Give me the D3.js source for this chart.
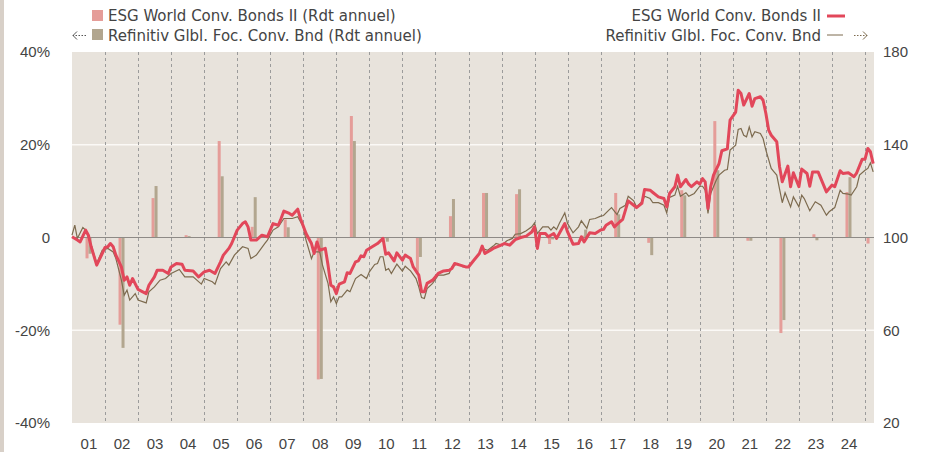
<!DOCTYPE html>
<html>
<head>
<meta charset="utf-8">
<script src="https://cdn.jsdelivr.net/npm/d3@7"></script>
<style>
    body { margin: 0; background: #fff; }
    svg { display: block; font-family: "DejaVu Sans", Verdana, sans-serif; }
    .axis text { fill: #444; font-size: 15px; }
</style>
</head>
<body>
<svg width="925" height="452"></svg>
<script>
// annual returns (%) shown as bars
const barYears = [2001, 2002, 2003, 2004, 2005, 2006, 2007, 2008, 2009, 2010, 2011, 2012, 2013,
    2014, 2015, 2016, 2017, 2018, 2019, 2020, 2021, 2022, 2023, 2024, 2025]
const esgAnnual = [-4.5, -18.8, 8.5, 0.5, 20.8, 2.3, 3.9, -30.6, 26.2, -0.2, -7.4, 4.6, 9.6,
    9.35, -1.4, 0.4, 9.6, -1.15, 10.2, 25.1, -0.7, -20.6, 0.7, 9.8, -1.3]
const refAnnual = [-3.5, -23.8, 11.1, 0.3, 13.2, 8.7, 2.2, -30.5, 20.8, -0.9, -4.2, 8.3, 9.6,
    10.4, -0.4, 1.7, 5.0, -3.8, 9.1, 14.5, -0.7, -17.8, -0.6, 13.0, 0]

// index levels (base 100), right axis
const esgIndex = [
    ["2001-01", 100.3], ["2001-03", 98.9], ["2001-04", 98.1], ["2001-06", 103.2], ["2001-07", 101], ["2001-08", 96], ["2001-10", 88.1], ["2001-12", 93.1],
    ["2002-01", 95.7], ["2002-02", 96], ["2002-03", 97.4], ["2002-04", 96], ["2002-05", 92.4], ["2002-07", 87.3], ["2002-08", 81.6], ["2002-09", 83], ["2002-10", 79.4], ["2002-11", 82.3],
    ["2003-01", 77.6], ["2003-02", 77], ["2003-04", 75.8], ["2003-05", 79.4], ["2003-07", 83], ["2003-08", 85.9], ["2003-10", 85.9], ["2003-12", 84.5],
    ["2004-01", 87.3], ["2004-03", 88.8], ["2004-05", 88.5], ["2004-06", 85.9], ["2004-09", 85.6], ["2004-11", 83],
    ["2005-01", 85.2], ["2005-03", 85.9], ["2005-05", 84.5], ["2005-07", 89.5], ["2005-08", 92.4], ["2005-10", 95.3], ["2005-11", 97.4],
    ["2006-01", 103.2], ["2006-03", 106], ["2006-04", 106.8], ["2006-05", 104.6], ["2006-06", 98.9], ["2006-08", 98.9], ["2006-10", 101], ["2006-12", 100.3],
    ["2007-02", 106], ["2007-04", 105.3], ["2007-05", 108.2], ["2007-06", 111.4], ["2007-08", 110.4], ["2007-09", 109.6], ["2007-11", 112.2], ["2007-12", 108.2],
    ["2008-02", 101.7], ["2008-04", 97.4], ["2008-05", 93.1], ["2008-06", 98.1], ["2008-07", 94.5], ["2008-09", 95.3], ["2008-10", 88.1], ["2008-11", 79.4], ["2008-12", 78.7],
    ["2009-01", 75.8], ["2009-02", 79.9], ["2009-04", 80.9], ["2009-05", 84.8], ["2009-06", 84.5], ["2009-08", 89.5], ["2009-09", 89.9], ["2009-10", 92.1], ["2009-11", 91.7], ["2009-12", 94.5],
    ["2010-02", 96], ["2010-04", 97.4], ["2010-06", 99.6], ["2010-07", 92.8], ["2010-08", 93.4], ["2010-10", 89.9], ["2010-11", 93.4],
    ["2011-01", 90.2], ["2011-02", 92.4], ["2011-04", 90.9], ["2011-05", 87.3], ["2011-07", 83.8], ["2011-08", 76.6], ["2011-09", 76.6], ["2011-10", 80.2], ["2011-12", 81.6],
    ["2012-02", 84.5], ["2012-04", 85.6], ["2012-06", 85.9], ["2012-07", 86.6], ["2012-08", 88.8], ["2012-10", 88.1], ["2012-12", 87.3],
    ["2013-01", 87.3], ["2013-03", 90.2], ["2013-05", 93.1], ["2013-06", 96.3], ["2013-07", 93.1], ["2013-09", 94.5], ["2013-10", 95.3], ["2013-12", 96.3],
    ["2014-02", 97.4], ["2014-04", 96.7], ["2014-06", 99.1], ["2014-08", 100], ["2014-10", 100.6], ["2014-12", 102.4],
    ["2015-01", 104.6], ["2015-02", 95.3], ["2015-03", 101.7], ["2015-05", 101.7], ["2015-06", 100.3], ["2015-08", 101.7], ["2015-09", 99.6], ["2015-10", 101.7], ["2015-12", 106],
    ["2016-01", 102.4], ["2016-03", 97.1], ["2016-05", 97.4], ["2016-06", 100.3], ["2016-07", 98.1], ["2016-09", 102], ["2016-11", 101.7],
    ["2017-01", 103.2], ["2017-02", 103.5], ["2017-03", 105.3], ["2017-05", 106.8], ["2017-06", 104.6], ["2017-08", 106.8], ["2017-09", 107.8], ["2017-11", 115.8],
    ["2018-01", 113.9], ["2018-02", 112.9], ["2018-04", 114.7], ["2018-05", 120.7], ["2018-07", 120.4], ["2018-08", 119.4], ["2018-10", 117.5], ["2018-12", 116.8],
    ["2019-01", 113.2], ["2019-02", 119], ["2019-04", 121.9], ["2019-05", 126.9], ["2019-06", 121.9], ["2019-08", 125], ["2019-09", 123], ["2019-10", 121.9], ["2019-12", 124],
    ["2020-01", 123], ["2020-02", 125.4], ["2020-03", 124], ["2020-04", 112.5], ["2020-05", 121.9], ["2020-06", 126.9], ["2020-08", 131.9], ["2020-09", 137.4], ["2020-11", 138.2], ["2020-12", 150.6],
    ["2021-02", 154.1], ["2021-03", 163.5], ["2021-04", 162.1], ["2021-05", 157.1], ["2021-07", 162.1], ["2021-08", 156.6], ["2021-09", 159.9], ["2021-11", 160.7], ["2021-12", 159.2],
    ["2022-01", 153.5], ["2022-02", 146.3], ["2022-03", 144.1], ["2022-05", 141.3], ["2022-06", 130.5], ["2022-07", 124], ["2022-09", 130.8], ["2022-10", 121.9], ["2022-11", 127.9],
    ["2023-01", 121.9], ["2023-02", 129.5], ["2023-04", 127.6], ["2023-05", 122.1], ["2023-06", 128.3], ["2023-08", 128.3], ["2023-09", 125.4], ["2023-11", 119.7], ["2023-12", 121.1],
    ["2024-01", 122.6], ["2024-02", 121.9], ["2024-04", 128.8], ["2024-05", 127.6], ["2024-07", 127.9], ["2024-09", 126.2], ["2024-10", 127.9], ["2024-12", 133.8],
    ["2025-01", 133.8], ["2025-02", 138.4], ["2025-03", 137], ["2025-04", 131.9]
]
const refIndex = [
    ["2001-01", 101], ["2001-02", 105.3], ["2001-03", 99.6], ["2001-05", 104.3], ["2001-06", 103.2], ["2001-08", 96.7], ["2001-10", 88.8], ["2001-12", 94.5],
    ["2002-02", 95.3], ["2002-04", 93.8], ["2002-05", 90.9], ["2002-07", 81.6], ["2002-08", 75.1], ["2002-09", 77.3], ["2002-10", 73], ["2002-12", 75.8],
    ["2003-01", 73], ["2003-04", 71.8], ["2003-05", 76.6], ["2003-07", 78.7], ["2003-09", 81.6], ["2003-11", 82.3],
    ["2004-01", 84.5], ["2004-04", 86.2], ["2004-06", 83], ["2004-09", 83], ["2004-12", 79.9],
    ["2005-01", 82.3], ["2005-04", 80.9], ["2005-05", 79.9], ["2005-07", 86.6], ["2005-09", 89.5], ["2005-10", 88.1], ["2005-12", 92.4],
    ["2006-03", 96], ["2006-05", 95.3], ["2006-06", 90.9], ["2006-08", 92.4], ["2006-11", 97.4], ["2006-12", 98.9],
    ["2007-02", 103.2], ["2007-04", 104.6], ["2007-06", 108.2], ["2007-09", 108.2], ["2007-11", 109],
    ["2008-01", 104.6], ["2008-02", 98.9], ["2008-04", 90.9], ["2008-05", 93.8], ["2008-07", 93.8], ["2008-08", 88.1], ["2008-10", 80.2], ["2008-11", 72.3], ["2008-12", 74.4],
    ["2009-01", 71.5], ["2009-02", 74.4], ["2009-03", 74.4], ["2009-05", 77.3], ["2009-06", 76.6], ["2009-08", 82.3], ["2009-10", 84], ["2009-12", 82.3],
    ["2010-01", 85.2], ["2010-03", 88.4], ["2010-04", 88.8], ["2010-05", 91.7], ["2010-06", 91.7], ["2010-07", 85.9], ["2010-08", 86.6], ["2010-09", 84.5], ["2010-11", 88.5],
    ["2011-01", 85.5], ["2011-02", 87.6], ["2011-04", 85.6], ["2011-06", 82.3], ["2011-07", 78.7], ["2011-08", 74.1], ["2011-09", 73.7], ["2011-10", 78], ["2011-12", 80.2],
    ["2012-02", 83.8], ["2012-04", 83.8], ["2012-06", 84.5], ["2012-07", 87.3], ["2012-09", 88.8], ["2012-11", 87.3],
    ["2013-01", 87.6], ["2013-03", 90.2], ["2013-05", 93.1], ["2013-06", 95.3], ["2013-08", 94.5], ["2013-10", 96.3], ["2013-11", 97.4],
    ["2014-01", 96.7], ["2014-03", 98.6], ["2014-05", 99.6], ["2014-06", 101.4], ["2014-08", 101.7], ["2014-10", 102.9], ["2014-12", 104.6],
    ["2015-01", 106.3], ["2015-02", 101.7], ["2015-04", 104.6], ["2015-06", 104.6], ["2015-07", 103.2], ["2015-08", 104.6], ["2015-09", 103.5], ["2015-10", 106], ["2015-12", 110.6],
    ["2016-01", 106], ["2016-03", 102], ["2016-05", 104.6], ["2016-06", 107.2], ["2016-08", 103.9], ["2016-09", 107.8], ["2016-11", 108.2],
    ["2017-01", 109.2], ["2017-02", 109.5], ["2017-04", 111.8], ["2017-05", 112.9], ["2017-07", 109.9], ["2017-08", 112.5], ["2017-10", 113.9], ["2017-11", 117.8],
    ["2018-01", 115.8], ["2018-02", 113.2], ["2018-04", 115.4], ["2018-05", 117.8], ["2018-07", 116.8], ["2018-08", 115], ["2018-10", 115], ["2018-12", 113.9],
    ["2019-01", 110.6], ["2019-02", 117.3], ["2019-04", 118.3], ["2019-05", 122.1], ["2019-06", 117.8], ["2019-08", 119.3], ["2019-09", 117.8], ["2019-11", 119],
    ["2020-01", 122.1], ["2020-02", 122.1], ["2020-03", 120.4], ["2020-04", 110.4], ["2020-05", 119], ["2020-07", 124.7], ["2020-08", 126.9], ["2020-10", 129], ["2020-11", 129.3], ["2020-12", 137.7],
    ["2021-02", 139.8], ["2021-03", 146.6], ["2021-04", 147], ["2021-05", 144.1], ["2021-06", 143.4], ["2021-07", 147.7], ["2021-08", 143.4], ["2021-09", 145.6], ["2021-11", 144.9], ["2021-12", 142.7],
    ["2022-01", 137.7], ["2022-03", 129.8], ["2022-04", 128.3], ["2022-05", 126.9], ["2022-07", 115], ["2022-08", 119.3], ["2022-10", 113.2], ["2022-11", 117.5],
    ["2023-01", 113.2], ["2023-02", 118.3], ["2023-03", 116.8], ["2023-05", 111.5], ["2023-07", 115.4], ["2023-08", 114.7], ["2023-09", 113.9], ["2023-11", 109.6], ["2023-12", 111.1],
    ["2024-02", 112.9], ["2024-04", 120.4], ["2024-05", 119], ["2024-07", 118.7], ["2024-08", 118.3], ["2024-10", 121.9], ["2024-11", 126.9],
    ["2025-01", 129], ["2025-02", 129.8], ["2025-03", 132.2], ["2025-04", 128.3]
]

const leftTicks = [-40, -20, 0, 20, 40]
const rightTicks = [20, 60, 100, 140, 180]
const esgName = "ESG World Conv. Bonds II"
const refName = "Refinitiv Glbl. Foc. Conv. Bnd"

const colors = { esgBar: "#e59d99", refBar: "#b2a68f", esgLine: "#e2475a", refLine: "#7d6b4f" }
const dim = { left: 72, right: 874, top: 52, bottom: 423 }

const parseMonth = d3.timeParse("%Y-%m")
const svg = d3.select("svg")

const x = d3.scaleTime()
    .domain([new Date(2001, 0, 1), new Date(2025, 3, 10)])
    .range([dim.left, dim.right])
const yLeft = d3.scaleLinear().domain([-40, 40]).range([dim.bottom, dim.top])
const yRight = d3.scaleLinear().domain([20, 180]).range([dim.bottom, dim.top])
const pair = d3.scaleBand().domain(["esg", "ref"]).range([-3, 3])

// frame
svg.append("rect").attr("x", 0).attr("y", 0).attr("width", 4).attr("height", 452).attr("fill", "#d8d0c8")
svg.append("rect")
    .attr("x", dim.left).attr("y", dim.top)
    .attr("width", dim.right - dim.left).attr("height", dim.bottom - dim.top)
    .attr("fill", "#e8e3dc")

svg.append("g").selectAll("line")
    .data(leftTicks.filter(d => d !== 0 && Math.abs(d) < 40))
    .join("line")
    .attr("x1", dim.left).attr("x2", dim.right)
    .attr("y1", d => yLeft(d)).attr("y2", d => yLeft(d))
    .attr("stroke", "#fbf9f6").attr("stroke-width", 1.5)

const yearStarts = barYears.slice(1).map(y => new Date(y, 0, 1))
svg.append("g").selectAll("line")
    .data(yearStarts)
    .join("line")
    .attr("x1", d => Math.round(x(d)) + 0.5).attr("x2", d => Math.round(x(d)) + 0.5)
    .attr("y1", dim.top).attr("y2", dim.bottom)
    .attr("stroke", "#9b9b9b").attr("stroke-dasharray", "3,3")

// bars, centred on the visible part of each year
function yearCenter(y) {
    const x0 = Math.max(x(new Date(y, 0, 1)), dim.left)
    const x1 = Math.min(x(new Date(y + 1, 0, 1)), dim.right)
    return (x0 + x1) / 2
}
const barData = barYears.flatMap((y, i) => [
    { year: y, key: "esg", value: esgAnnual[i] },
    { year: y, key: "ref", value: refAnnual[i] }
])
svg.append("g").selectAll("rect")
    .data(barData)
    .join("rect")
    .attr("x", d => yearCenter(d.year) + pair(d.key))
    .attr("width", pair.bandwidth())
    .attr("y", d => yLeft(Math.max(0, d.value)))
    .attr("height", d => Math.abs(yLeft(d.value) - yLeft(0)))
    .attr("fill", d => d.key === "esg" ? colors.esgBar : colors.refBar)

svg.append("line")
    .attr("x1", dim.left).attr("x2", dim.right)
    .attr("y1", yLeft(0)).attr("y2", yLeft(0))
    .attr("stroke", "#8e8a86").attr("stroke-width", 1)

const line = d3.line()
    .x(d => x(parseMonth(d[0])))
    .y(d => yRight(d[1]))

svg.append("path").datum(refIndex)
    .attr("d", line).attr("fill", "none")
    .attr("stroke", colors.refLine).attr("stroke-width", 1.2)
svg.append("path").datum(esgIndex)
    .attr("d", line).attr("fill", "none")
    .attr("stroke", colors.esgLine).attr("stroke-width", 3).attr("stroke-linejoin", "round")

// axes
const yearLabels = barYears.slice(0, -1).map(y => new Date(y, 6, 2))
svg.append("g").attr("class", "axis")
    .attr("transform", `translate(0, ${dim.bottom})`)
    .call(d3.axisBottom(x).tickValues(yearLabels).tickFormat(d3.timeFormat("%y")).tickSize(0).tickPadding(15))
    .call(g => g.select(".domain").remove())
svg.append("g").attr("class", "axis")
    .attr("transform", `translate(${dim.left}, 0)`)
    .call(d3.axisLeft(yLeft).tickValues(leftTicks).tickFormat(d => d === 0 ? "0" : `${d}%`).tickSize(0).tickPadding(22))
    .call(g => g.select(".domain").remove())
svg.append("g").attr("class", "axis")
    .attr("transform", `translate(${dim.right}, 0)`)
    .call(d3.axisRight(yRight).tickValues(rightTicks).tickSize(0).tickPadding(9))
    .call(g => g.select(".domain").remove())
svg.selectAll(".axis text").attr("font-family", null).attr("font-size", null)

// legend
const legend = svg.append("g").attr("font-size", 15).attr("fill", "#444")
legend.append("rect").attr("x", 92).attr("y", 10).attr("width", 11).attr("height", 11).attr("fill", colors.esgBar)
legend.append("rect").attr("x", 92).attr("y", 29).attr("width", 11).attr("height", 11).attr("fill", colors.refBar)
legend.append("text").attr("x", 108).attr("y", 21).text(`${esgName} (Rdt annuel)`)
legend.append("text").attr("x", 108).attr("y", 40.5).text(`${refName} (Rdt annuel)`)
legend.append("text").attr("x", 821).attr("y", 21).attr("text-anchor", "end").text(esgName)
legend.append("text").attr("x", 821).attr("y", 40.5).attr("text-anchor", "end").text(refName)
legend.append("line").attr("x1", 827).attr("x2", 845).attr("y1", 16).attr("y2", 16)
    .attr("stroke", colors.esgLine).attr("stroke-width", 3)
legend.append("line").attr("x1", 827).attr("x2", 843).attr("y1", 35).attr("y2", 35)
    .attr("stroke", colors.refLine).attr("stroke-width", 1)

// dotted arrows pointing at the axis each series uses
function arrow(x0, x1, color) {
    const dir = Math.sign(x1 - x0)
    legend.append("line").attr("x1", x0).attr("x2", x1).attr("y1", 35.5).attr("y2", 35.5)
        .attr("stroke", color).attr("stroke-dasharray", "1.5,1.5")
    legend.append("path")
        .attr("d", `M${x1 - dir * 4},31.5 L${x1},35.5 L${x1 - dir * 4},39.5`)
        .attr("fill", "none").attr("stroke", color).attr("stroke-width", 1)
}
arrow(86, 73, "#555")
arrow(854, 867, colors.refLine)
</script>
</body>
</html>
